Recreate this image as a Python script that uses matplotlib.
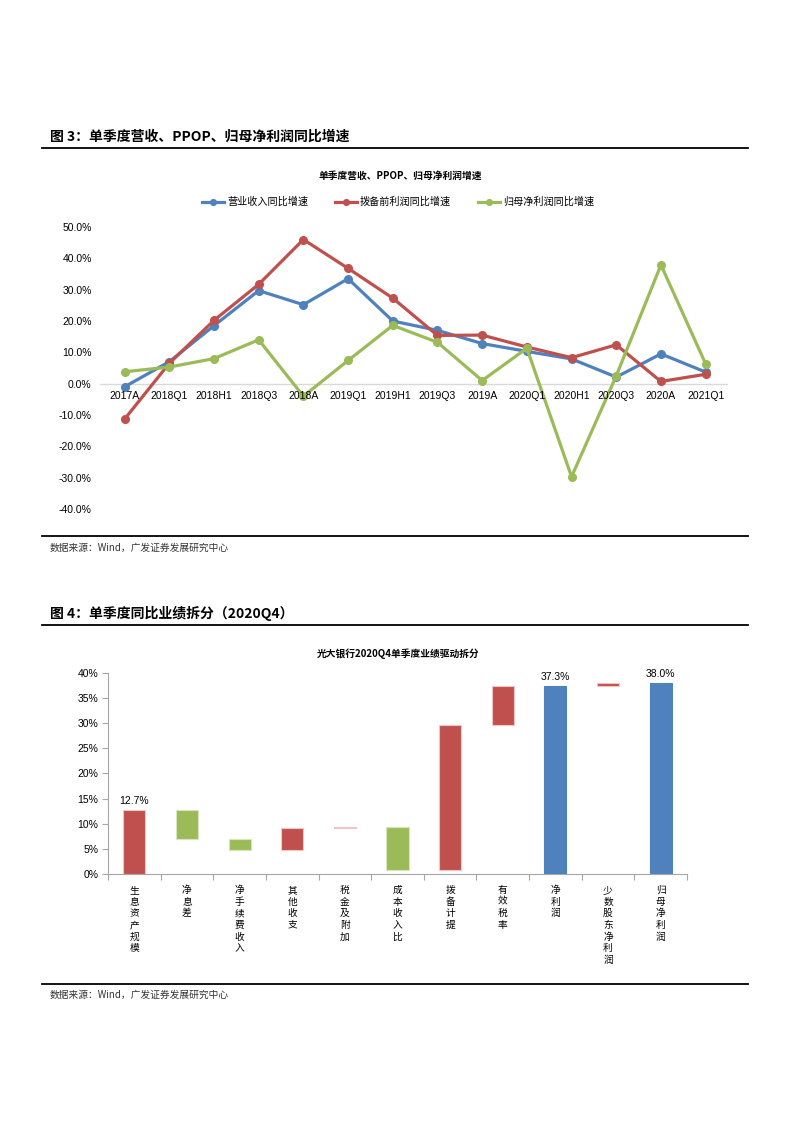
import matplotlib
matplotlib.use("Agg")
import matplotlib.pyplot as plt
from matplotlib.lines import Line2D
import numpy as np

plt.rcParams['font.family'] = ['Liberation Sans', 'Noto Sans CJK SC', 'DejaVu Sans']
CJK = ['Noto Sans CJK SC', 'Liberation Sans', 'DejaVu Sans']

# ---------------- data: chart 1 ----------------
periods = ['2017A', '2018Q1', '2018H1', '2018Q3', '2018A', '2019Q1', '2019H1',
           '2019Q3', '2019A', '2020Q1', '2020H1', '2020Q3', '2020A', '2021Q1']
revenue_yoy = [-1.0, 7.0, 18.5, 29.7, 25.2, 33.5, 20.0, 17.0, 12.8, 10.3, 7.9, 2.1, 9.5, 3.7]
ppop_yoy = [-11.3, 6.5, 20.2, 31.7, 46.0, 36.8, 27.3, 15.4, 15.5, 11.7, 8.3, 12.4, 0.7, 3.0]
netprofit_yoy = [3.8, 5.3, 8.0, 14.0, -4.0, 7.4, 18.6, 13.2, 1.0, 11.3, -29.7, 2.5, 37.9, 6.3]
series_names = ['营业收入同比增速', '拨备前利润同比增速', '归母净利润同比增速']
y1_ticks = [50, 40, 30, 20, 10, 0, -10, -20, -30, -40]

# ---------------- data: chart 2 ----------------
factors = ['生息资产规模', '净息差', '净手续费收入', '其他收支', '税金及附加', '成本收入比',
           '拨备计提', '有效税率', '净利润', '少数股东净利润', '归母净利润']
contrib = [12.7, -5.7, -2.2, 4.4, 0.05, -8.5, 28.8, 7.8, 37.3, 0.7, 38.0]
is_total = [False, False, False, False, False, False, False, False, True, False, True]
labeled = {0: '12.7%', 8: '37.3%', 10: '38.0%'}
y2_ticks = [0, 5, 10, 15, 20, 25, 30, 35, 40]

BLUE, RED, GREEN = '#4F81BD', '#C0504D', '#9BBB59'
W, H = 793, 1122
fig = plt.figure(figsize=(W / 100, H / 100), dpi=100)

def fx(px):
    return px / W

def fy(py):
    return 1 - py / H

def hrule(py, x0=42, x1=748, lw=1.3):
    fig.add_artist(Line2D([fx(x0), fx(x1)], [fy(py), fy(py)], color='black', lw=lw,
                          transform=fig.transFigure))

# ---------------- header 1 ----------------
fig.text(fx(50), fy(137), '图 3：单季度营收、PPOP、归母净利润同比增速', fontsize=10,
         fontweight='bold', family=CJK, va='center', ha='left')
hrule(148)
fig.text(fx(400), fy(176), '单季度营收、PPOP、归母净利润增速', fontsize=7, fontweight='bold',
         family=CJK, va='center', ha='center')

# ---------------- chart 1 ----------------
ax1 = fig.add_axes([fx(100), fy(509), fx(628), (509 - 227) / H])
x = np.arange(len(periods))
for vals, col, name in zip([revenue_yoy, ppop_yoy, netprofit_yoy], [BLUE, RED, GREEN], series_names):
    ax1.plot(x, vals, color=col, lw=2.3, marker='o', markersize=5.5, label=name, clip_on=False)
ax1.axhline(0, color='#D9D9D9', lw=1, zorder=0)
ax1.set_xlim(-0.55, len(periods) - 0.5)
ax1.set_ylim(-40, 50)
ax1.set_yticks(y1_ticks)
ax1.set_yticklabels([f'{v:.1f}%' for v in y1_ticks], fontsize=7.5)
ax1.tick_params(axis='y', length=0, pad=6)
ax1.set_xticks([])
for s in ax1.spines.values():
    s.set_visible(False)
for i, p in enumerate(periods):
    ax1.annotate(p, (i, 0), xytext=(0, -5), textcoords='offset points', ha='center', va='top',
                 fontsize=7.5)
fig.legend(loc='center', bbox_to_anchor=(fx(398), fy(202)), ncol=3, frameon=False,
           prop={'family': CJK, 'size': 7.3}, handlelength=2.2, columnspacing=2.6,
           handletextpad=0.3, markerscale=0.75)

hrule(536)
fig.text(fx(50), fy(548), '数据来源：Wind，广发证券发展研究中心', fontsize=7, family=CJK,
         va='center', ha='left', color='#333333')

# ---------------- header 2 ----------------
fig.text(fx(50), fy(613), '图 4：单季度同比业绩拆分（2020Q4）', fontsize=10,
         fontweight='bold', family=CJK, va='center', ha='left')
hrule(625)
fig.text(fx(398), fy(654), '光大银行2020Q4单季度业绩驱动拆分', fontsize=7, fontweight='bold',
         family=CJK, va='center', ha='center')

# ---------------- chart 2 ----------------
ax2 = fig.add_axes([fx(108), fy(874), fx(579), (874 - 672.7) / H])
bottoms, heights, colors, edges = [], [], [], []
level = 0.0
for v, tot in zip(contrib, is_total):
    if tot:
        bottoms.append(0.0)
        heights.append(v)
        level = v
        colors.append(BLUE)
        edges.append(BLUE)
    else:
        if v >= 0:
            bottoms.append(level)
            colors.append(RED)
            edges.append('#F2C4C3')
        else:
            bottoms.append(level + v)
            colors.append(GREEN)
            edges.append('#D7E4BD')
        heights.append(abs(v))
        level += v
xi = np.arange(len(factors))
ax2.bar(xi, heights, bottom=bottoms, width=0.42, color=colors, edgecolor=edges, linewidth=0.8)
for i, txt in labeled.items():
    ax2.annotate(txt, (i, bottoms[i] + heights[i]), xytext=(0, 3), textcoords='offset points',
                 ha='center', va='bottom', fontsize=7.5)
ax2.set_xlim(-0.5, len(factors) - 0.5)
ax2.set_ylim(0, 40)
ax2.set_yticks(y2_ticks)
ax2.set_yticklabels([f'{v}%' for v in y2_ticks], fontsize=7.5)
ax2.set_xticks(np.arange(-0.5, len(factors), 1.0))
ax2.set_xticklabels([])
ax2.tick_params(axis='y', length=4, color='#A6A6A6', pad=3)
ax2.tick_params(axis='x', length=4, color='#A6A6A6')
for k in ['top', 'right']:
    ax2.spines[k].set_visible(False)
for k in ['left', 'bottom']:
    ax2.spines[k].set_color('#A6A6A6')
    ax2.spines[k].set_linewidth(0.8)
for i, f in enumerate(factors):
    ax2.annotate('\n'.join(f), (i, 0), xytext=(0, -8), textcoords='offset points',
                 ha='center', va='top', fontsize=7, family=CJK, linespacing=1.2)

hrule(984)
fig.text(fx(50), fy(995), '数据来源：Wind，广发证券发展研究中心', fontsize=7, family=CJK,
         va='center', ha='left', color='#333333')

fig.savefig('out.png', dpi=100)
